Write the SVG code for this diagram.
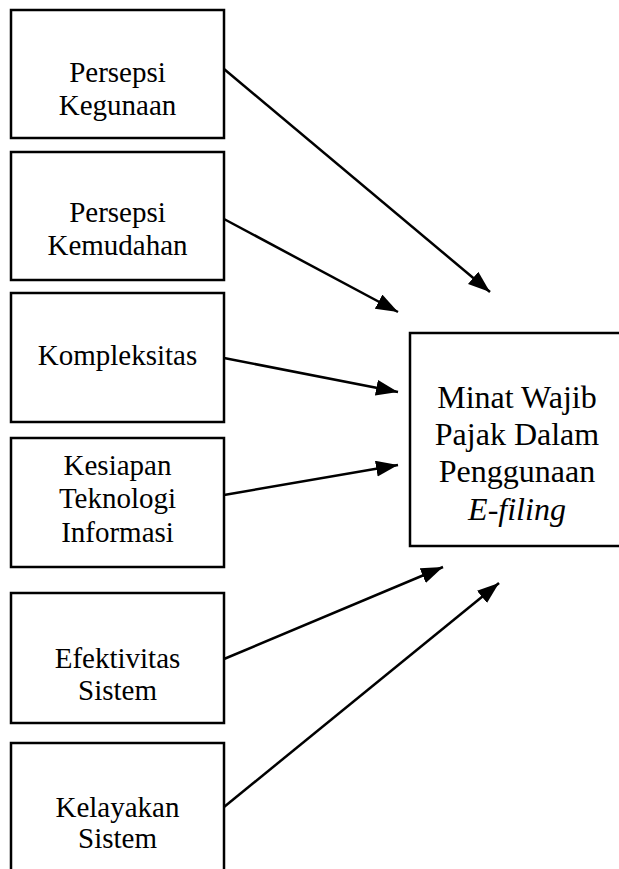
<svg xmlns="http://www.w3.org/2000/svg" width="619" height="869" viewBox="0 0 619 869">
<style>
.box{fill:#fff;stroke:#000;stroke-width:2.5}
.t{font-family:"Liberation Serif","Times New Roman",serif;font-size:29px;fill:#000;text-anchor:middle}
.tb{font-family:"Liberation Serif","Times New Roman",serif;font-size:32px;fill:#000;text-anchor:middle}
.c{stroke:#000;stroke-width:2.5;fill:none;marker-end:url(#ah)}
</style>
<defs>
<marker id="ah" markerUnits="userSpaceOnUse" markerWidth="23" markerHeight="17" refX="22" refY="8" orient="auto">
<path d="M0,0 L22,8 L0,16 z" fill="#000"/>
</marker>
</defs>
<rect width="619" height="869" fill="#fff"/>
<g id="n1"><rect class="box" x="11" y="10" width="213" height="128"/>
<text class="t" x="117.5" y="82">Persepsi</text><text class="t" x="117.5" y="115">Kegunaan</text></g>
<g id="n2"><rect class="box" x="11" y="152" width="213" height="128"/>
<text class="t" x="117.5" y="222">Persepsi</text><text class="t" x="117.5" y="255">Kemudahan</text></g>
<g id="n3"><rect class="box" x="11" y="293" width="213" height="129"/>
<text class="t" x="117.5" y="365">Kompleksitas</text></g>
<g id="n4"><rect class="box" x="11" y="438" width="213" height="129"/>
<text class="t" x="117.5" y="475">Kesiapan</text><text class="t" x="117.5" y="508">Teknologi</text><text class="t" x="117.5" y="542">Informasi</text></g>
<g id="n5"><rect class="box" x="11" y="593" width="213" height="130"/>
<text class="t" x="117.5" y="668">Efektivitas</text><text class="t" x="117.5" y="700">Sistem</text></g>
<g id="n6"><rect class="box" x="11" y="743" width="213" height="140"/>
<text class="t" x="117.5" y="817">Kelayakan</text><text class="t" x="117.5" y="848">Sistem</text></g>
<g id="target"><rect class="box" x="410" y="333" width="214" height="213"/>
<text class="tb" x="517" y="408">Minat Wajib</text>
<text class="tb" x="517" y="445">Pajak Dalam</text>
<text class="tb" x="517" y="482">Penggunaan</text>
<text class="tb" x="517" y="520" font-style="italic">E-filing</text></g>
<g id="connectors">
<line class="c" x1="224" y1="69" x2="490" y2="292"/>
<line class="c" x1="224" y1="219" x2="398" y2="312"/>
<line class="c" x1="224" y1="358" x2="398" y2="392"/>
<line class="c" x1="224" y1="495" x2="398" y2="465"/>
<line class="c" x1="224" y1="659" x2="443" y2="567"/>
<line class="c" x1="224" y1="807" x2="499" y2="583"/>
</g>
</svg>
